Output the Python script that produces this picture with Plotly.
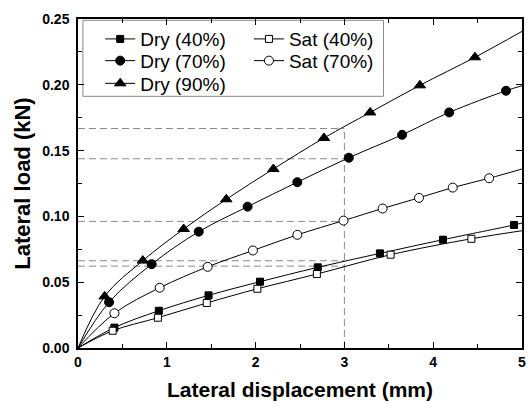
import plotly.graph_objects as go

# ---- data ----
x_dry40 = [0.41, 0.91, 1.47, 2.05, 2.70, 3.40, 4.11, 4.91]
y_dry40 = [0.0155, 0.0283, 0.0400, 0.0504, 0.0613, 0.0719, 0.0823, 0.0935]
x_sat40 = [0.39, 0.90, 1.45, 2.02, 2.69, 3.52, 4.43]
y_sat40 = [0.0131, 0.0230, 0.0342, 0.0450, 0.0562, 0.0709, 0.0830]
x_dry70 = [0.35, 0.83, 1.36, 1.91, 2.47, 3.05, 3.65, 4.18, 4.82]
y_dry70 = [0.0348, 0.0637, 0.0884, 0.1074, 0.1260, 0.1446, 0.1620, 0.1790, 0.1955]
x_sat70 = [0.41, 0.92, 1.46, 1.97, 2.47, 2.99, 3.43, 3.84, 4.22, 4.63]
y_sat70 = [0.0264, 0.0458, 0.0617, 0.0741, 0.0860, 0.0968, 0.1060, 0.1141, 0.1219, 0.1290]
x_dry90 = [0.30, 0.73, 1.19, 1.67, 2.20, 2.77, 3.29, 3.85, 4.47]
y_dry90 = [0.0392, 0.0664, 0.0904, 0.1130, 0.1360, 0.1596, 0.1790, 0.1996, 0.2209]

# fitted-curve start / end values (curves start at origin, run to x = 5)
curve_x0, curve_y0 = 0.0, 0.0
curve_x_end = 5.0
end_dry40, end_sat40, end_dry70, end_sat70, end_dry90 = 0.0950, 0.0891, 0.1993, 0.1360, 0.2406

# reference (dashed) lines at 3 mm
ref_x = 3.0
ref_y = [0.1668, 0.1438, 0.0962, 0.0663, 0.0622]

series_names = ["Dry (40%)", "Sat (40%)", "Dry (70%)", "Sat (70%)", "Dry (90%)"]

FONT = "Liberation Sans, Arial, sans-serif"

fig = go.Figure()

# dashed guide lines
for yv in ref_y:
    fig.add_trace(go.Scatter(x=[0, ref_x], y=[yv, yv], mode="lines",
                             line=dict(color="#8a8a8a", width=1, dash="7px,4px"),
                             showlegend=False, hoverinfo="skip"))
fig.add_trace(go.Scatter(x=[ref_x, ref_x], y=[0, max(ref_y)], mode="lines",
                         line=dict(color="#8a8a8a", width=1, dash="7px,4px"),
                         showlegend=False, hoverinfo="skip"))

styles = [
    (x_dry40, y_dry40, end_dry40, "square", 7, "black"),
    (x_sat40, y_sat40, end_sat40, "square", 7, "white"),
    (x_dry70, y_dry70, end_dry70, "circle", 9, "black"),
    (x_sat70, y_sat70, end_sat70, "circle", 9, "white"),
    (x_dry90, y_dry90, end_dry90, "triangle-up", 10, "black"),
]

legend_names = ["legend", "legend2", "legend3", "legend4", "legend5"]

for (xs, ys, yend, sym, size, fill), name, lg in zip(styles, series_names, legend_names):
    # smooth curve
    fig.add_trace(go.Scatter(x=[curve_x0] + xs + [curve_x_end], y=[curve_y0] + ys + [yend],
                             mode="lines", line=dict(color="black", width=1, shape="spline", smoothing=1.0),
                             showlegend=False, hoverinfo="skip"))
    # markers
    fig.add_trace(go.Scatter(x=xs, y=ys, mode="markers",
                             marker=dict(symbol=sym, size=size, color=fill,
                                         line=dict(color="black", width=1)),
                             showlegend=False, name=name))
    # legend entry
    fig.add_trace(go.Scatter(x=[None], y=[None], mode="lines+markers", name=name,
                             line=dict(color="black", width=1),
                             marker=dict(symbol=sym, size=size, color=fill,
                                         line=dict(color="black", width=1)),
                             legend=lg, showlegend=True))

leg_font = dict(family=FONT, size=19, color="black")
col1, col2 = 0.05, 0.385
row1, row2, row3 = 0.939, 0.873, 0.804
def leg(x, y):
    return dict(x=x, y=y, xanchor="left", yanchor="middle", bgcolor="rgba(0,0,0,0)",
                borderwidth=0, font=leg_font)

fig.update_layout(
    width=528, height=408,
    margin=dict(l=78, r=2, t=19, b=60),
    paper_bgcolor="white", plot_bgcolor="white",
    font=dict(family=FONT, color="black"),
    legend=leg(col1, row1),
    legend2=leg(col2, row1),
    legend3=leg(col1, row2),
    legend4=leg(col2, row2),
    legend5=leg(col1, row3),
    shapes=[dict(type="rect", xref="paper", yref="paper", x0=0.011, x1=0.688, y0=0.765, y1=0.996,
                 line=dict(color="#8a8a8a", width=1), fillcolor="rgba(0,0,0,0)", layer="below")],
)

fig.update_xaxes(
    range=[0, 5], dtick=1, tick0=0, showgrid=False, zeroline=False,
    showline=True, linecolor="black", linewidth=1.5, mirror="allticks",
    ticks="inside", ticklen=6, tickwidth=1.2, tickcolor="black",
    minor=dict(dtick=0.5, ticks="inside", ticklen=4, tickwidth=1, tickcolor="black", showgrid=False),
    tickfont=dict(family=FONT, size=14, color="black", weight="bold"),
    ticklabeloverflow="allow",
    title=dict(text="<b>Lateral displacement (mm)</b>", font=dict(family=FONT, size=21, color="black"),
               standoff=14),
)
fig.update_yaxes(
    range=[0, 0.25], dtick=0.05, tick0=0, tickformat=".2f", showgrid=False, zeroline=False,
    showline=True, linecolor="black", linewidth=1.5, mirror="allticks",
    ticks="inside", ticklen=6, tickwidth=1.2, tickcolor="black",
    minor=dict(dtick=0.025, ticks="inside", ticklen=4, tickwidth=1, tickcolor="black", showgrid=False),
    tickfont=dict(family=FONT, size=14, color="black", weight="bold"),
    ticklabelstandoff=4,
    ticklabeloverflow="allow",
    title=dict(text="<b>Lateral load (kN)</b>", font=dict(family=FONT, size=22, color="black"),
               standoff=6),
)

fig.write_html("out.html")
